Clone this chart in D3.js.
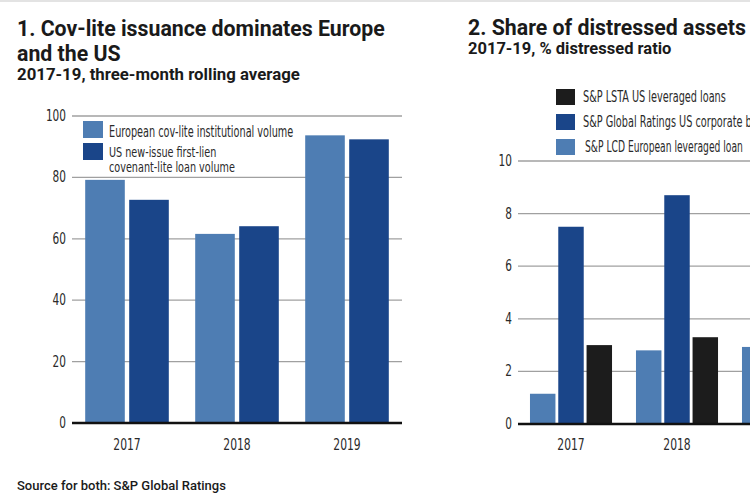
<!DOCTYPE html>
<html><head><meta charset="utf-8">
<script src="https://cdn.jsdelivr.net/npm/d3@7"></script>
<style>
body{margin:0;background:#fff;}
svg{display:block;}
.cond{font-family:"Liberation Sans Narrow","DejaVu Sans Condensed",sans-serif;}
.head{font-family:Roboto,"Open Sans",sans-serif;font-weight:700;fill:#1a1a1a;}
</style>
</head><body>
<svg id="c" width="750" height="500"></svg>
<script>
// ---- data ----
const years = ["2017","2018","2019"];
const covSeries = ["European cov-lite institutional volume","US new-issue first-lien covenant-lite loan volume"];
const covEurope = [79.2, 61.6, 93.7];
const covUS = [72.7, 64.1, 92.4];
const covTicks = [0,20,40,60,80,100];

const distSeries = ["S&P LCD European leveraged loan","S&P Global Ratings US corporate bonds","S&P LSTA US leveraged loans"];
const distEurope = [1.15, 2.8, 2.93];
const distUSBonds = [7.5, 8.7, 6.2];
const distLSTA = [3.0, 3.3, 3.6];
const distTicks = [0,2,4,6,8,10];

const cLight = "#4e7db3", cDark = "#1a4589", cBlack = "#1c1c1c", cGrid = "#a0a0a0";

const svg = d3.select("#c");
svg.append("rect").attr("x",0).attr("y",0).attr("width",750).attr("height",2).attr("fill","#e3e3e3");

function cText(g, x, y, txt, size, anchor, sx){
  return g.append("text").attr("class","cond")
    .attr("transform",`translate(${x},${y}) scale(${sx||0.86},1)`)
    .attr("text-anchor",anchor||"start").attr("font-size",size).attr("fill","#2a2a2a").text(txt);
}

// ---- Chart 1 ----
{
  const g = svg.append("g");
  g.append("text").attr("class","head").attr("x",17).attr("y",36).attr("font-size",21.3).text("1. Cov-lite issuance dominates Europe");
  g.append("text").attr("class","head").attr("x",17).attr("y",61).attr("font-size",21.3).text("and the US");
  g.append("text").attr("class","head").attr("x",17).attr("y",80).attr("font-size",16.8).text("2017-19, three-month rolling average");

  const x0 = d3.scaleBand().domain(years).range([72,402]).paddingInner(0.24).paddingOuter(0.12);
  const x1 = d3.scaleBand().domain([0,1]).range([0,x0.bandwidth()]).paddingInner(0.1);
  const y = d3.scaleLinear().domain([0,100]).range([423,116]);

  covTicks.forEach(t=>{
    if(t>0) g.append("line").attr("x1",72).attr("x2",402).attr("y1",y(t)).attr("y2",y(t)).attr("stroke",cGrid).attr("stroke-width",1.3);
    cText(g,66,y(t)+5,String(t),15,"end",0.78);
  });
  const vals=[covEurope,covUS], cols=[cLight,cDark];
  vals.forEach((arr,si)=>{
    g.selectAll(null).data(years).enter().append("rect")
      .attr("x",d=>x0(d)+x1(si)).attr("width",x1.bandwidth())
      .attr("y",(d,i)=>y(arr[i])).attr("height",(d,i)=>y(0)-y(arr[i]))
      .attr("fill",cols[si]);
  });
  g.append("line").attr("x1",72).attr("x2",402).attr("y1",y(0)).attr("y2",y(0)).attr("stroke","#111").attr("stroke-width",2.5);
  years.forEach(yr=>cText(g,x0(yr)+x0.bandwidth()/2,450,yr,15,"middle",0.8));

  // legend
  g.append("rect").attr("x",83).attr("y",121).attr("width",20).attr("height",17).attr("fill",cLight);
  g.append("rect").attr("x",83).attr("y",143).attr("width",20).attr("height",17).attr("fill",cDark);
  cText(g,109,137,covSeries[0],15,"start",0.72);
  cText(g,109,157,"US new-issue first-lien",14.5,"start",0.74);
  cText(g,109,172,"covenant-lite loan volume",14.5,"start",0.74);

  svg.append("text").attr("x",17).attr("y",490).attr("font-family","Roboto,sans-serif").attr("font-weight",500)
    .attr("font-size",13).attr("fill","#1a1a1a").text("Source for both: S&P Global Ratings");
}

// ---- Chart 2 ----
{
  const g = svg.append("g");
  g.append("text").attr("class","head").attr("x",468).attr("y",35).attr("font-size",21.3).text("2. Share of distressed assets");
  g.append("text").attr("class","head").attr("x",468).attr("y",54).attr("font-size",16.5).text("2017-19, % distressed ratio");

  const x0 = d3.scaleBand().domain(years).range([518,836]).paddingInner(0.226).paddingOuter(0.113);
  const x1 = d3.scaleBand().domain([0,1,2]).range([0,x0.bandwidth()]).paddingInner(0.1);
  const y = d3.scaleLinear().domain([0,10]).range([424,161]);

  distTicks.forEach(t=>{
    if(t>0) g.append("line").attr("x1",518).attr("x2",840).attr("y1",y(t)).attr("y2",y(t)).attr("stroke",cGrid).attr("stroke-width",1.3);
    cText(g,512,y(t)+5,String(t),15,"end",0.78);
  });
  const vals=[distEurope,distUSBonds,distLSTA], cols=[cLight,cDark,cBlack];
  vals.forEach((arr,si)=>{
    g.selectAll(null).data(years).enter().append("rect")
      .attr("x",d=>x0(d)+x1(si)).attr("width",x1.bandwidth())
      .attr("y",(d,i)=>y(arr[i])).attr("height",(d,i)=>y(0)-y(arr[i]))
      .attr("fill",cols[si]);
  });
  g.append("line").attr("x1",518).attr("x2",840).attr("y1",y(0)).attr("y2",y(0)).attr("stroke","#111").attr("stroke-width",2.5);
  years.forEach(yr=>cText(g,x0(yr)+x0.bandwidth()/2,450,yr,15,"middle",0.8));

  // legend (reverse order)
  const legY=[89,114,139];
  [2,1,0].forEach((si,k)=>{
    g.append("rect").attr("x",556).attr("y",legY[k]).attr("width",19).attr("height",16).attr("fill",cols[si]);
    cText(g,si===0?585:583,legY[k]+13,distSeries[si],15,"start",si===0?0.68:0.72);
  });
}
</script>
</body></html>
